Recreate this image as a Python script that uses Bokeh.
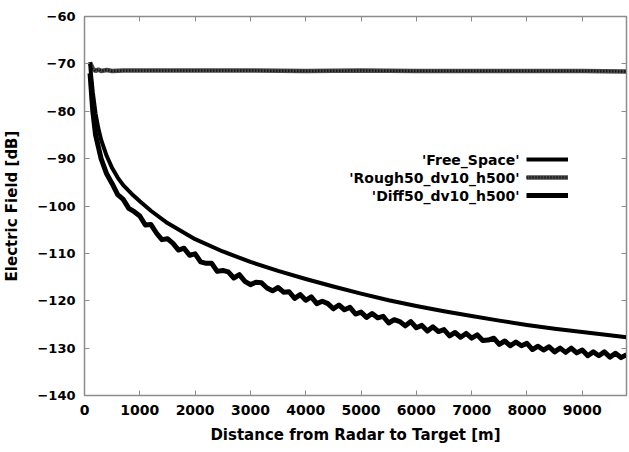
from bokeh.plotting import figure
from bokeh.models import (Range1d, LinearAxis, Legend, LegendItem, Label,
                          FixedTicker)
from bokeh.core.properties import value
from bokeh.embed import file_html
from bokeh.resources import INLINE

# ---------------- data ----------------
fs_x = [100, 120, 150, 200, 250, 300, 400, 500, 600, 700, 850, 1000, 1200, 1500,
        2000, 2500, 3000, 3500, 4000, 4500, 5000, 5500, 6000, 6500, 7000, 7500,
        8000, 8500, 9000, 9500, 9800]
fs_y = [-69.7, -72.5, -76.0, -80.5, -83.6, -86.0, -89.4, -92.0, -94.0, -95.6,
        -97.4, -99.0, -101.0, -103.6, -107.0, -109.6, -111.8, -113.7, -115.4,
        -117.0, -118.5, -119.9, -121.1, -122.2, -123.2, -124.2, -125.1, -125.9,
        -126.6, -127.3, -127.7]

rough_x = [100, 150, 200, 250, 300, 400, 500, 700, 1000, 2000, 3000, 4000, 5000,
           6000, 7000, 8000, 9000, 9800]
rough_y = [-69.7, -71.0, -71.5, -71.2, -71.5, -71.3, -71.5, -71.4, -71.4, -71.4,
           -71.4, -71.5, -71.4, -71.5, -71.5, -71.5, -71.5, -71.6]

diff_x = [100, 150, 200, 300, 400, 500, 600, 700, 800, 900, 1000, 1100, 1200,
          1300, 1400, 1500, 1600, 1700, 1800, 1900, 2000, 2100, 2200, 2300, 2400,
          2500, 2600, 2700, 2800, 2900, 3000, 3100, 3200, 3300, 3400, 3500, 3600,
          3700, 3800, 3900, 4000, 4100, 4200, 4300, 4400, 4500, 4600, 4700, 4800,
          4900, 5000, 5100, 5200, 5300, 5400, 5500, 5600, 5700, 5800, 5900, 6000,
          6100, 6200, 6300, 6400, 6500, 6600, 6700, 6800, 6900, 7000, 7100, 7200,
          7300, 7400, 7500, 7600, 7700, 7800, 7900, 8000, 8100, 8200, 8300, 8400,
          8500, 8600, 8700, 8800, 8900, 9000, 9100, 9200, 9300, 9400, 9500, 9600,
          9700, 9800]
diff_y = [-72.0, -80.0, -85.0, -90.0, -93.2, -95.3, -97.6, -98.6, -100.5, -101.2,
          -102.1, -104.0, -103.9, -105.7, -107.1, -106.9, -107.9, -109.3, -108.9,
          -110.4, -110.1, -111.8, -112.1, -112.1, -113.8, -113.6, -113.9, -115.2,
          -114.5, -115.9, -116.6, -116.1, -116.2, -117.3, -117.9, -117.2, -118.2,
          -118.1, -119.5, -118.7, -119.9, -119.2, -120.6, -120.1, -120.6, -121.7,
          -120.9, -121.9, -121.4, -122.8, -122.4, -123.5, -122.7, -123.6, -123.3,
          -124.7, -124.0, -124.4, -125.3, -124.4, -125.7, -125.2, -126.4, -125.5,
          -126.5, -126.1, -127.4, -126.7, -127.7, -126.9, -127.9, -127.2, -128.4,
          -128.3, -127.9, -129.2, -128.5, -129.5, -128.7, -129.5, -129.0, -130.3,
          -129.6, -130.4, -129.7, -130.8, -130.0, -130.9, -130.0, -131.0, -130.4,
          -131.6, -130.8, -131.6, -130.8, -131.9, -131.1, -132.0, -131.4]

x_ticks = [0, 1000, 2000, 3000, 4000, 5000, 6000, 7000, 8000, 9000]
y_ticks = [-140, -130, -120, -110, -100, -90, -80, -70, -60]
series_names = ["'Free_Space'", "'Rough50_dv10_h500'", "'Diff50_dv10_h500'"]

# ---------------- figure ----------------
FONT = "DejaVu Sans"
GRAY = "#8c8c8c"

p = figure(width=629, height=452, output_backend="svg", toolbar_location=None,
           x_range=Range1d(0, 9800), y_range=Range1d(-140, -60),
           min_border_left=83, min_border_right=3, min_border_top=16,
           min_border_bottom=57, background_fill_color="white",
           border_fill_color="white")
p.grid.visible = False
p.outline_line_color = GRAY
p.outline_line_width = 1.5

for ax in (p.xaxis[0], p.yaxis[0]):
    ax.axis_line_color = GRAY
    ax.major_tick_line_color = GRAY
    ax.major_tick_in = 5
    ax.major_tick_out = 0
    ax.minor_tick_line_color = None
    ax.major_label_text_font = FONT
    ax.major_label_text_font_style = "bold"
    ax.major_label_text_color = "black"
    ax.axis_label_text_font = FONT
    ax.axis_label_text_font_style = "bold"
    ax.axis_label_text_color = "black"
    ax.axis_label_text_font_size = "15px"

p.xaxis[0].ticker = FixedTicker(ticks=x_ticks)
p.yaxis[0].ticker = FixedTicker(ticks=y_ticks)
p.xaxis[0].major_label_text_font_size = "14px"
p.yaxis[0].major_label_text_font_size = "13px"
p.xaxis[0].major_label_standoff = 9
p.yaxis[0].major_label_standoff = 9
p.xaxis[0].axis_label = "Distance from Radar to Target [m]"
p.yaxis[0].axis_label = "Electric Field [dB]"
p.xaxis[0].axis_label_standoff = 8
p.yaxis[0].axis_label_standoff = 13

# mirrored inward ticks on top and right (labels not drawn)
top = LinearAxis(ticker=FixedTicker(ticks=x_ticks), major_label_text_font_size="1px",
                 major_label_text_color=None, major_label_standoff=0,
                 major_tick_in=5, major_tick_out=0, minor_tick_line_color=None,
                 axis_line_color=GRAY, major_tick_line_color=GRAY)
right = LinearAxis(ticker=FixedTicker(ticks=y_ticks), major_label_text_font_size="1px",
                   major_label_text_color=None, major_label_standoff=0,
                   major_tick_in=5, major_tick_out=0, minor_tick_line_color=None,
                   axis_line_color=GRAY, major_tick_line_color=GRAY)
p.add_layout(top, "above")
p.add_layout(right, "right")

# ---------------- series ----------------
r_rough_base = p.line(rough_x, rough_y, line_color="#4a4a4a", line_width=4.5)
r_rough_dots = p.line(rough_x, rough_y, line_color="#000000", line_width=2.5,
                      line_dash="1 2")
r_fs = p.line(fs_x, fs_y, line_color="black", line_width=4, line_join="round")
r_diff = p.line(diff_x, diff_y, line_color="black", line_width=5,
                line_join="round")

# ---------------- legend (text left of the sample line) ----------------
legend = Legend(items=[
    LegendItem(label=value(""), renderers=[r_fs]),
    LegendItem(label=value(""), renderers=[r_rough_base, r_rough_dots]),
    LegendItem(label=value(""), renderers=[r_diff]),
], location=(442, 191), padding=0, margin=0, spacing=0, glyph_width=42,
    glyph_height=18, label_height=18, label_width=0, label_standoff=0,
    border_line_color=None, background_fill_alpha=0)
p.add_layout(legend, "center")

for i, name in enumerate(series_names):
    p.add_layout(Label(x=435, y=236 - 18 * i, x_units="screen", y_units="screen",
                       text=name, text_align="right", text_baseline="middle",
                       text_font=FONT, text_font_style="bold",
                       text_font_size="14px", text_color="black"))

open("out.html", "w").write(file_html(p, INLINE))
